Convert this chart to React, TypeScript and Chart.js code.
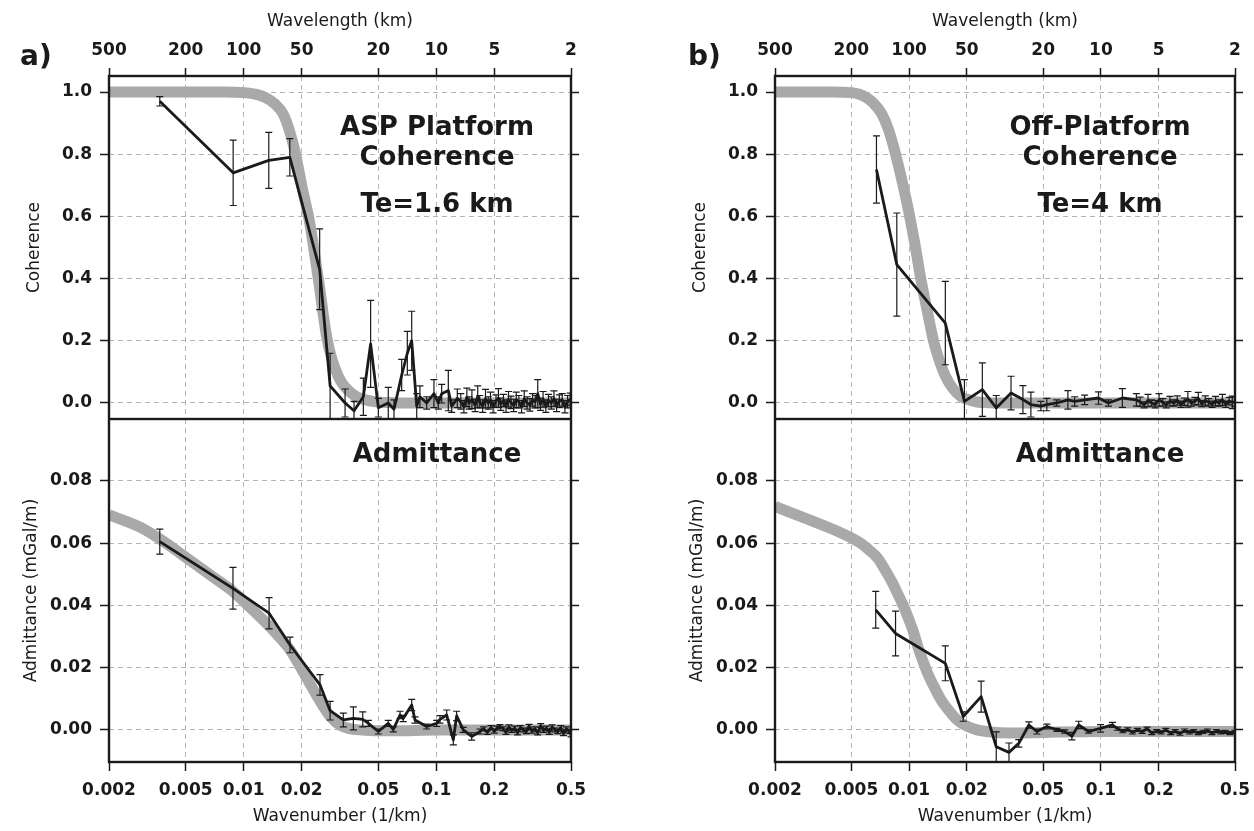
import React, { useEffect, useRef } from "react";
import { Chart, registerables } from "chart.js";

Chart.register(...registerables);

const FONT = "'DejaVu Sans', 'Liberation Sans', Arial, sans-serif";
const INK = "#1a1a1a";
const GRID = "#b4b4b4";
const BAND = "#a9a9a9";

// ---- tick values ----
const wavenumberTicks = [0.002, 0.005, 0.01, 0.02, 0.05, 0.1, 0.2, 0.5];
const wavelengthTicks = [500, 200, 100, 50, 20, 10, 5, 2];
const coherenceTicks = [0, 0.2, 0.4, 0.6, 0.8, 1.0];
const admittanceTicks = [0, 0.02, 0.04, 0.06, 0.08];

// ---- panel a: ASP Platform, observed coherence ----
const kCohA = [0.00367, 0.00882, 0.0135, 0.01736, 0.0248, 0.0281, 0.0336, 0.0374, 0.0418, 0.0456, 0.05, 0.0563, 0.0603, 0.0661, 0.0707, 0.0745, 0.0791, 0.0822, 0.0891, 0.0972, 0.1024, 0.1066, 0.1154, 0.1202, 0.1285,
  0.134, 0.139, 0.144, 0.148, 0.153, 0.159, 0.164, 0.168, 0.174, 0.18, 0.186, 0.191, 0.197, 0.204, 0.21, 0.216, 0.223, 0.23, 0.237, 0.244, 0.252, 0.26, 0.268, 0.277, 0.286, 0.296, 0.306, 0.316, 0.326, 0.336, 0.347, 0.358, 0.37, 0.382, 0.395, 0.408, 0.421, 0.435, 0.45, 0.465, 0.48, 0.495];
const cohA = [0.97, 0.74, 0.78, 0.79, 0.43, 0.055, 0.0, -0.025, 0.02, 0.19, -0.015, 0.0, -0.02, 0.09, 0.16, 0.2, -0.01, 0.02, 0.0, 0.03, 0.0, 0.03, 0.04, -0.01, 0.015,
  0.005, -0.012, 0.018, 0.0, 0.012, -0.008, 0.02, 0.004, -0.01, 0.014, 0.0, 0.01, -0.012, 0.006, 0.016, -0.004, 0.008, -0.01, 0.012, 0.002, -0.008, 0.01, 0.004, -0.012, 0.014, 0.0, -0.006, 0.01, 0.004, 0.03, -0.004, 0.012, -0.01, 0.008, 0.0, 0.014, -0.008, 0.006, 0.01, -0.012, 0.004, 0.012];
const errCohA = [0.015, 0.105, 0.09, 0.06, 0.13, 0.105, 0.045, 0.03, 0.06, 0.14, 0.03, 0.05, 0.03, 0.05, 0.07, 0.095, 0.04, 0.035, 0.02, 0.045, 0.02, 0.03, 0.065, 0.02, 0.03,
  0.025, 0.02, 0.03, 0.02, 0.03, 0.02, 0.035, 0.02, 0.02, 0.03, 0.02, 0.025, 0.02, 0.02, 0.03, 0.02, 0.02, 0.02, 0.025, 0.02, 0.02, 0.025, 0.02, 0.02, 0.025, 0.02, 0.02, 0.02, 0.02, 0.045, 0.02, 0.025, 0.02, 0.02, 0.02, 0.025, 0.02, 0.02, 0.02, 0.02, 0.02, 0.02];

// ---- panel a: model coherence (Te=1.6 km) ----
const kTheoCohA = [0.002, 0.004, 0.006, 0.008, 0.01, 0.0115, 0.013, 0.0145, 0.016, 0.0172, 0.0186, 0.02, 0.022, 0.0244, 0.0272, 0.031, 0.0365, 0.046, 0.06, 0.08, 0.12, 0.2, 0.3, 0.5];
const theoCohA = [1.0, 1.0, 1.0, 1.0, 0.998, 0.993, 0.982, 0.962, 0.93, 0.88, 0.8, 0.7, 0.58, 0.4, 0.2, 0.085, 0.03, 0.006, 0.001, 0, 0, 0, 0, 0];

// ---- panel a: observed admittance ----
const kAdmA = [0.00367, 0.0088, 0.01355, 0.0174, 0.0249, 0.0281, 0.0329, 0.0371, 0.0415, 0.0444, 0.05, 0.0563, 0.0598, 0.0648, 0.0673, 0.0745, 0.0775, 0.0891, 0.1004, 0.1045, 0.1132, 0.1225, 0.1275, 0.138, 0.1526, 0.1685,
  0.176, 0.184, 0.192, 0.2, 0.207, 0.214,
  0.222, 0.23, 0.238, 0.246, 0.255, 0.264, 0.273, 0.283, 0.293, 0.303, 0.314, 0.325, 0.336, 0.348, 0.36, 0.373, 0.386, 0.399, 0.413, 0.427, 0.442, 0.457, 0.473, 0.489, 0.5];
const admA = [0.0605, 0.0455, 0.0375, 0.0273, 0.0145, 0.0062, 0.0032, 0.0037, 0.0034, 0.0021, -0.0005, 0.0021, 0.0002, 0.0048, 0.0037, 0.008, 0.0032, 0.0011, 0.0021, 0.0034, 0.0048, -0.0032, 0.0045, 0.0, -0.0021, -0.0005,
  0.0004, -0.0008, 0.0008, -0.0004, 0.0006, 0.0011,
  0.0004, -0.0008, 0.001, -0.0002, 0.0006, -0.001, 0.0008, 0.0, -0.0006, 0.0012, -0.0004, 0.0004, -0.001, 0.0014, -0.0002, 0.0006, -0.0008, 0.001, 0.0, -0.0006, 0.0008, -0.0012, 0.0004, -0.0004, -0.0016];
const errAdmA = [0.004, 0.0067, 0.005, 0.0025, 0.0033, 0.003, 0.0022, 0.0037, 0.0024, 0.001, 0.0008, 0.001, 0.0008, 0.0012, 0.001, 0.0018, 0.001, 0.0008, 0.001, 0.0012, 0.0016, 0.0016, 0.0015, 0.0008, 0.0012, 0.0008,
  0.0006, 0.0006, 0.0006, 0.0006, 0.0006, 0.0006,
  0.0006, 0.0006, 0.0006, 0.0006, 0.0006, 0.0006, 0.0006, 0.0006, 0.0006, 0.0006, 0.0006, 0.0006, 0.0006, 0.0006, 0.0006, 0.0006, 0.0006, 0.0006, 0.0006, 0.0006, 0.0006, 0.0006, 0.0006, 0.0006, 0.0006];

// ---- panel a: model admittance ----
const kTheoAdmA = [0.002, 0.003, 0.0037, 0.005, 0.007, 0.0088, 0.011, 0.0135, 0.0155, 0.0174, 0.02, 0.022, 0.024, 0.026, 0.0276, 0.03, 0.032, 0.035, 0.0385, 0.045, 0.06, 0.1, 0.2, 0.5];
const theoAdmA = [0.0691, 0.0647, 0.0612, 0.0555, 0.049, 0.0445, 0.0389, 0.0335, 0.0295, 0.0257, 0.0195, 0.015, 0.0109, 0.0074, 0.005, 0.0026, 0.0014, 0.0005, 0.0001, -0.0002, -0.0003, 0.0, 0.0, 0.0];

// ---- panel b: Off-Platform, observed coherence ----
const kCohB = [0.00676, 0.00863, 0.01545, 0.01943, 0.02409, 0.02847, 0.03399, 0.03921, 0.04315, 0.04862, 0.05224, 0.05885, 0.06727, 0.07296, 0.08223, 0.09718, 0.1095, 0.1294, 0.153,
  0.16, 0.168, 0.176, 0.184, 0.192, 0.201, 0.21, 0.219, 0.229, 0.239, 0.25, 0.261, 0.272, 0.284, 0.296, 0.309, 0.322, 0.336, 0.35, 0.365, 0.38, 0.396, 0.413, 0.43, 0.448, 0.466, 0.484, 0.5];
const cohB = [0.751, 0.445, 0.257, 0.005, 0.043, -0.016, 0.032, 0.011, -0.005, -0.01, -0.005, 0.0, 0.01, 0.005, 0.01, 0.016, 0.0, 0.016, 0.01,
  0.004, -0.006, 0.008, 0.0, -0.004, 0.01, 0.002, -0.006, 0.006, 0.0, 0.008, -0.004, 0.004, 0.012, 0.0, 0.006, 0.014, -0.002, 0.008, 0.002, -0.004, 0.006, 0.0, 0.01, -0.004, 0.006, 0.002, 0.004];
const errCohB = [0.108, 0.166, 0.134, 0.07, 0.086, 0.04, 0.054, 0.045, 0.04, 0.015, 0.02, 0.01, 0.03, 0.015, 0.015, 0.02, 0.01, 0.03, 0.02,
  0.015, 0.01, 0.02, 0.01, 0.012, 0.02, 0.012, 0.01, 0.015, 0.01, 0.015, 0.01, 0.012, 0.025, 0.01, 0.012, 0.02, 0.01, 0.015, 0.012, 0.01, 0.015, 0.01, 0.018, 0.01, 0.012, 0.02, 0.015];

// ---- panel b: model coherence (Te=4 km) ----
const kTheoCohB = [0.002, 0.004, 0.005, 0.0055, 0.006, 0.0065, 0.0072, 0.0078, 0.0085, 0.0093, 0.01, 0.0108, 0.0115, 0.0125, 0.0134, 0.0145, 0.0155, 0.017, 0.0187, 0.0205, 0.0226, 0.026, 0.035, 0.05, 0.1, 0.5];
const theoCohB = [1.0, 1.0, 0.998, 0.993, 0.982, 0.965, 0.93, 0.88, 0.8, 0.7, 0.61, 0.5, 0.4, 0.29, 0.2, 0.13, 0.085, 0.045, 0.02, 0.01, 0.003, 0.001, 0, 0, 0, 0];

// ---- panel b: observed admittance ----
const kAdmB = [0.0067, 0.0085, 0.01545, 0.01916, 0.02375, 0.02847, 0.03317, 0.0373, 0.04213, 0.04635, 0.05224, 0.05885, 0.06475, 0.07057, 0.07657, 0.08625, 0.09954, 0.1149,
  0.122, 0.13, 0.138, 0.146, 0.155, 0.164, 0.174, 0.184, 0.195, 0.206, 0.218, 0.231, 0.244, 0.258, 0.273, 0.289, 0.305, 0.322, 0.34, 0.359, 0.379, 0.4, 0.422, 0.445, 0.47, 0.5];
const admB = [0.0386, 0.031, 0.0214, 0.0043, 0.0107, -0.0054, -0.0072, -0.0043, 0.0016, -0.0005, 0.0011, 0.0, -0.0005, -0.002, 0.0016, -0.0005, 0.0005, 0.0016,
  0.0004, -0.0004, 0.0002, -0.0008, 0.0, -0.0006, 0.0004, -0.001, -0.0004, -0.0008, 0.0, -0.001, -0.0004, -0.0012, -0.0002, -0.0008, -0.0004, -0.001, -0.0006, -0.0002, -0.001, -0.0004, -0.0008, -0.0006, -0.001, -0.0006];
const errAdmB = [0.0059, 0.0072, 0.0056, 0.0015, 0.005, 0.0048, 0.003, 0.0012, 0.001, 0.0008, 0.0008, 0.0005, 0.0005, 0.0012, 0.0012, 0.0005, 0.0012, 0.0008,
  0.0005, 0.0005, 0.0005, 0.0005, 0.0005, 0.0005, 0.0005, 0.0005, 0.0005, 0.0005, 0.0005, 0.0005, 0.0005, 0.0005, 0.0005, 0.0005, 0.0005, 0.0005, 0.0005, 0.0005, 0.0005, 0.0005, 0.0005, 0.0005, 0.0005, 0.0005];

// ---- panel b: model admittance ----
const kTheoAdmB = [0.002, 0.003, 0.004, 0.0049, 0.0056, 0.0062, 0.0069, 0.0075, 0.0081, 0.0087, 0.0094, 0.01, 0.0106, 0.0111, 0.0118, 0.0125, 0.0136, 0.0147, 0.016, 0.0178, 0.02, 0.0226, 0.026, 0.033, 0.05, 0.1, 0.5];
const theoAdmB = [0.0718, 0.0676, 0.0645, 0.062, 0.06, 0.0578, 0.055, 0.0514, 0.0478, 0.0439, 0.0395, 0.0353, 0.031, 0.0268, 0.0222, 0.0182, 0.0135, 0.0096, 0.0065, 0.0032, 0.0012, 0.0, -0.0006, -0.001, -0.0008, -0.0005, -0.0005];

type TextItem = { text: string; x: number; y: number; size: number; align: CanvasTextAlign };

interface PlotSpec {
  left: number;
  top: number;
  width: number;
  height: number;
  kind: "coh" | "adm";
  leftW: number;
  rightW: number;
  kObs: number[];
  vObs: number[];
  eObs: number[];
  kTheo: number[];
  vTheo: number[];
  texts: TextItem[];
}

const specs: PlotSpec[] = [
  {
    left: 0, top: 0, width: 620, height: 419, kind: "coh", leftW: 109, rightW: 49,
    kObs: kCohA, vObs: cohA, eObs: errCohA, kTheo: kTheoCohA, vTheo: theoCohA,
    texts: [
      { text: "a)", x: 20, y: 65, size: 28, align: "left" },
      { text: "ASP Platform", x: 437, y: 135, size: 26, align: "center" },
      { text: "Coherence", x: 437, y: 165, size: 26, align: "center" },
      { text: "Te=1.6 km", x: 437, y: 212, size: 26, align: "center" },
    ],
  },
  {
    left: 0, top: 419, width: 620, height: 412, kind: "adm", leftW: 109, rightW: 49,
    kObs: kAdmA, vObs: admA, eObs: errAdmA, kTheo: kTheoAdmA, vTheo: theoAdmA,
    texts: [{ text: "Admittance", x: 437, y: 462, size: 26, align: "center" }],
  },
  {
    left: 666, top: 0, width: 588, height: 419, kind: "coh", leftW: 109, rightW: 19,
    kObs: kCohB, vObs: cohB, eObs: errCohB, kTheo: kTheoCohB, vTheo: theoCohB,
    texts: [
      { text: "b)", x: 688, y: 65, size: 28, align: "left" },
      { text: "Off-Platform", x: 1100, y: 135, size: 26, align: "center" },
      { text: "Coherence", x: 1100, y: 165, size: 26, align: "center" },
      { text: "Te=4 km", x: 1100, y: 212, size: 26, align: "center" },
    ],
  },
  {
    left: 666, top: 419, width: 588, height: 412, kind: "adm", leftW: 109, rightW: 19,
    kObs: kAdmB, vObs: admB, eObs: errAdmB, kTheo: kTheoAdmB, vTheo: theoAdmB,
    texts: [{ text: "Admittance", x: 1100, y: 462, size: 26, align: "center" }],
  },
];

const errorBarPlugin = {
  id: "errorBars",
  afterDatasetsDraw(chart: any) {
    const { ctx, chartArea } = chart;
    ctx.save();
    ctx.beginPath();
    ctx.rect(chartArea.left, chartArea.top, chartArea.right - chartArea.left, chartArea.bottom - chartArea.top);
    ctx.clip();
    ctx.strokeStyle = INK;
    ctx.lineWidth = 1.2;
    chart.data.datasets.forEach((ds: any, di: number) => {
      const errs = ds.errs as number[] | undefined;
      if (!errs) return;
      const meta = chart.getDatasetMeta(di);
      const xs = chart.scales[meta.xAxisID];
      const ys = chart.scales[meta.yAxisID];
      ds.data.forEach((p: any, i: number) => {
        const e = errs[i];
        if (!e) return;
        const x = xs.getPixelForValue(p.x);
        const y1 = ys.getPixelForValue(p.y + e);
        const y2 = ys.getPixelForValue(p.y - e);
        ctx.beginPath();
        ctx.moveTo(x, y1);
        ctx.lineTo(x, y2);
        ctx.moveTo(x - 3.5, y1);
        ctx.lineTo(x + 3.5, y1);
        ctx.moveTo(x - 3.5, y2);
        ctx.lineTo(x + 3.5, y2);
        ctx.stroke();
      });
    });
    ctx.restore();
  },
};

const framePlugin = {
  id: "frame",
  afterDatasetsDraw(chart: any) {
    const { ctx, chartArea } = chart;
    ctx.save();
    ctx.strokeStyle = INK;
    ctx.lineWidth = 2.4;
    ctx.strokeRect(chartArea.left, chartArea.top, chartArea.right - chartArea.left, chartArea.bottom - chartArea.top);
    ctx.restore();
  },
};

function makeTextPlugin(s: PlotSpec) {
  return {
    id: "panelTexts",
    afterDraw(chart: any) {
      const ctx = chart.ctx;
      ctx.save();
      ctx.fillStyle = INK;
      ctx.textBaseline = "alphabetic";
      s.texts.forEach((t) => {
        ctx.font = `bold ${t.size}px ${FONT}`;
        ctx.textAlign = t.align;
        ctx.fillText(t.text, t.x - s.left, t.y - s.top);
      });
      ctx.restore();
    },
  };
}

function makeConfig(s: PlotSpec): any {
  const isCoh = s.kind === "coh";
  const yTicks = isCoh ? coherenceTicks : admittanceTicks;
  const yMin = isCoh ? -0.0515 : -0.0103;
  const yMax = isCoh ? 1.0515 : 0.0999;
  const digits = isCoh ? 1 : 2;
  const tickFont = { family: FONT, size: 17, weight: "bold" };
  const titleFont = { family: FONT, size: 17, weight: "normal" };
  const noPad = (sc: any) => {
    sc.paddingLeft = 0;
    sc.paddingRight = 0;
    sc.paddingTop = 0;
    sc.paddingBottom = 0;
  };
  const setYTicks = (sc: any) => {
    sc.ticks = yTicks.map((v) => ({ value: v }));
  };

  const scales: any = {
    x: {
      type: "logarithmic",
      position: "bottom",
      min: 0.002,
      max: 0.5,
      afterBuildTicks: (sc: any) => {
        sc.ticks = wavenumberTicks.map((v) => ({ value: v }));
      },
      afterFit: (sc: any) => {
        sc.height = isCoh ? 0 : 69;
        noPad(sc);
      },
      grid: { color: GRID, lineWidth: 1, drawTicks: !isCoh, tickLength: 9, tickColor: INK, tickWidth: 1.5 },
      border: { display: false, dash: [5, 4] },
      ticks: {
        display: !isCoh,
        autoSkip: false,
        maxRotation: 0,
        minRotation: 0,
        padding: 9,
        font: tickFont,
        color: INK,
        callback: (v: any) => String(v),
      },
      title: { display: !isCoh, text: "Wavenumber (1/km)", font: titleFont, color: INK, padding: { top: 0, bottom: 4 } },
    },
    y: {
      type: "linear",
      position: "left",
      min: yMin,
      max: yMax,
      afterBuildTicks: setYTicks,
      afterFit: (sc: any) => {
        sc.width = s.leftW;
        noPad(sc);
      },
      grid: { color: GRID, lineWidth: 1, drawTicks: true, tickLength: 9, tickColor: INK, tickWidth: 1.5 },
      border: { display: false, dash: [5, 4] },
      ticks: { padding: 8, font: tickFont, color: INK, callback: (v: any) => Number(v).toFixed(digits) },
      title: {
        display: true,
        text: isCoh ? "Coherence" : "Admittance (mGal/m)",
        font: titleFont,
        color: INK,
        padding: { top: isCoh ? 24 : 21, bottom: 0 },
      },
    },
    yR: {
      type: "linear",
      position: "right",
      min: yMin,
      max: yMax,
      afterBuildTicks: setYTicks,
      afterFit: (sc: any) => {
        sc.width = s.rightW;
        noPad(sc);
      },
      grid: { drawOnChartArea: false, drawTicks: true, tickLength: 8, tickColor: INK, tickWidth: 1.5, color: GRID },
      border: { display: false },
      ticks: { display: false },
    },
  };

  if (isCoh) {
    scales.xTop = {
      type: "logarithmic",
      position: "top",
      reverse: true,
      min: 2,
      max: 500,
      afterBuildTicks: (sc: any) => {
        sc.ticks = wavelengthTicks.map((v) => ({ value: v }));
      },
      afterFit: (sc: any) => {
        sc.height = 76;
        noPad(sc);
      },
      grid: { drawOnChartArea: false, drawTicks: true, tickLength: 8, tickColor: INK, tickWidth: 1.5, color: GRID },
      border: { display: false },
      ticks: {
        autoSkip: false,
        maxRotation: 0,
        minRotation: 0,
        padding: 7,
        font: tickFont,
        color: INK,
        callback: (v: any) => String(v),
      },
      title: { display: true, text: "Wavelength (km)", font: titleFont, color: INK, padding: { top: 11, bottom: 0 } },
    };
  }

  return {
    type: "line",
    data: {
      datasets: [
        {
          label: "observed",
          data: s.kObs.map((k, i) => ({ x: k, y: s.vObs[i] })),
          errs: s.eObs,
          xAxisID: "x",
          yAxisID: "y",
          borderColor: INK,
          borderWidth: 2.8,
          borderJoinStyle: "round",
          pointRadius: 0,
          tension: 0,
          fill: false,
          clip: 0,
        },
        {
          label: "model",
          data: s.kTheo.map((k, i) => ({ x: k, y: s.vTheo[i] })),
          xAxisID: "x",
          yAxisID: "y",
          borderColor: BAND,
          borderWidth: 11,
          borderCapStyle: "butt",
          pointRadius: 0,
          cubicInterpolationMode: "monotone",
          fill: false,
          clip: 0,
        },
      ],
    },
    options: {
      responsive: false,
      animation: false,
      events: [],
      layout: { padding: 0 },
      plugins: { legend: { display: false }, tooltip: { enabled: false } },
      scales,
    },
    plugins: [errorBarPlugin, framePlugin, makeTextPlugin(s)],
  };
}

function PlotCanvas({ spec }: { spec: PlotSpec }) {
  const ref = useRef<HTMLCanvasElement | null>(null);
  useEffect(() => {
    if (!ref.current) return;
    const chart = new Chart(ref.current, makeConfig(spec));
    return () => chart.destroy();
  }, [spec]);
  return (
    <canvas
      ref={ref}
      width={spec.width}
      height={spec.height}
      style={{ position: "absolute", left: spec.left, top: spec.top, width: spec.width, height: spec.height }}
    />
  );
}

export default function App() {
  return (
    <div
      style={{
        position: "absolute",
        left: 0,
        top: 0,
        width: 1254,
        height: 831,
        background: "#ffffff",
        overflow: "hidden",
      }}
    >
      {specs.map((s, i) => (
        <PlotCanvas key={i} spec={s} />
      ))}
    </div>
  );
}
